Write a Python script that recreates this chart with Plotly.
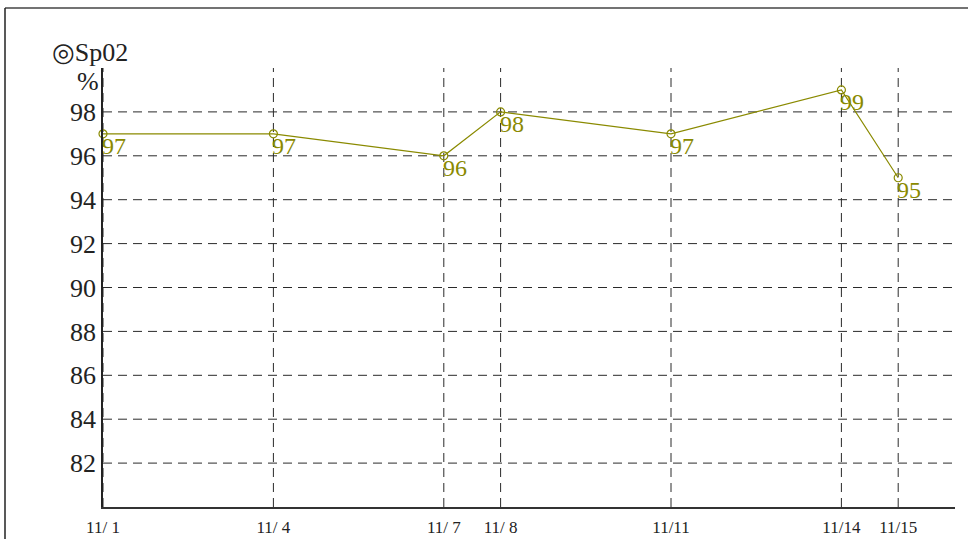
import plotly.graph_objects as go

days = [1, 4, 7, 8, 11, 14, 15]
tick_labels = ["11/ 1", "11/ 4", "11/ 7", "11/ 8", "11/11", "11/14", "11/15"]
spo2 = [97, 97, 96, 98, 97, 99, 95]
y_ticks = [82, 84, 86, 88, 90, 92, 94, 96, 98]

W, H = 968, 539
L, R, T, B = 103, 13, 68, 32
pw, ph = W - L - R, H - T - B

OLIVE = "#8a8a00"
FONT = "Liberation Serif, DejaVu Serif, serif"
GRID = "#2a2a2a"

fig = go.Figure()
fig.add_trace(go.Scatter(
    x=days, y=spo2, mode="lines+markers",
    line=dict(color=OLIVE, width=1.2),
    marker=dict(symbol="circle-open", size=8, color=OLIVE, line=dict(width=1.2)),
    cliponaxis=False, showlegend=False, hoverinfo="skip",
))

shapes = []
for d in days:
    shapes.append(dict(type="line", xref="x", yref="paper", x0=d, x1=d, y0=0, y1=1,
                       line=dict(color=GRID, width=1, dash="9px,6px"), layer="below"))
for yv in y_ticks:
    shapes.append(dict(type="line", xref="paper", yref="y", x0=0, x1=1, y0=yv, y1=yv,
                       line=dict(color=GRID, width=1, dash="9px,6px"), layer="below"))
# outer border (top and left)
shapes.append(dict(type="line", xref="paper", yref="paper",
                   x0=(5 - L) / pw, x1=(W - L) / pw, y0=(H - B - 8) / ph, y1=(H - B - 8) / ph,
                   line=dict(color="#444", width=1.5)))
shapes.append(dict(type="line", xref="paper", yref="paper",
                   x0=(5 - L) / pw, x1=(5 - L) / pw, y0=(H - B - 8) / ph, y1=(H - B - H) / ph,
                   line=dict(color="#222", width=1.5)))

annotations = [
    dict(text="◎Sp02", xref="paper", yref="paper", x=(50 - L) / pw, y=(H - B - 52) / ph,
         xanchor="left", yanchor="middle", showarrow=False,
         font=dict(family=FONT, size=26, color="#222")),
    dict(text="%", xref="paper", yref="paper", x=(101 - L) / pw, y=(H - B - 82) / ph,
         xanchor="right", yanchor="middle", showarrow=False,
         font=dict(family=FONT, size=26, color="#222")),
]
for d, v in zip(days, spo2):
    annotations.append(dict(text=str(v), x=d, y=v, xref="x", yref="y",
                            xanchor="left", yanchor="top", showarrow=False,
                            xshift=-2, yshift=2, borderpad=0,
                            font=dict(family=FONT, size=24, color=OLIVE)))

fig.update_layout(
    width=W, height=H,
    margin=dict(l=L, r=R, t=T, b=B, pad=0),
    plot_bgcolor="white", paper_bgcolor="white",
    shapes=shapes, annotations=annotations,
    xaxis=dict(range=[1, 16], tickvals=days, ticktext=tick_labels, showgrid=False,
               zeroline=False, showline=True, linecolor="#333", linewidth=1.5,
               ticks="", automargin=False, ticklabelstandoff=4,
               tickfont=dict(family=FONT, size=17, color="#222")),
    yaxis=dict(range=[80, 100], tickvals=y_ticks, showgrid=False, zeroline=False,
               showline=True, linecolor="#222", linewidth=1.5, ticks="",
               automargin=False,
               tickfont=dict(family=FONT, size=26, color="#222")),
)

fig.write_html("out.html", config={"displayModeBar": False},
               post_script="document.body.style.margin='0';")
